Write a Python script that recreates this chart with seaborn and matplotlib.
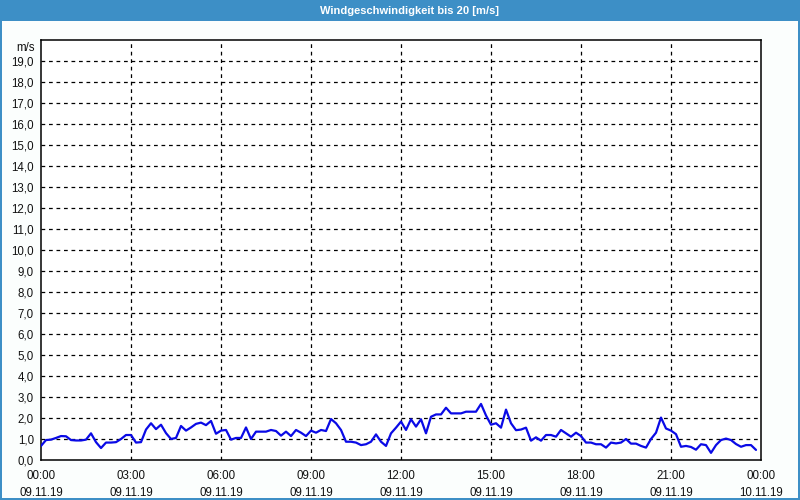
import numpy as np
import pandas as pd
import matplotlib
matplotlib.use("Agg")
import matplotlib.pyplot as plt
from matplotlib.patches import Rectangle
from matplotlib.transforms import ScaledTranslation
import seaborn as sns

# ---- data (10-minute samples, 09.11.19 00:00 .. 23:50) ----
wind_speed = [
    0.67, 0.95, 0.97, 1.05, 1.14, 1.13, 0.95, 0.93, 0.93, 0.97, 1.27, 0.85,
    0.57, 0.83, 0.83, 0.85, 1.00, 1.19, 1.19, 0.83, 0.85, 1.45, 1.75, 1.47,
    1.68, 1.28, 1.00, 1.05, 1.62, 1.40, 1.55, 1.72, 1.78, 1.66, 1.86, 1.25,
    1.40, 1.43, 0.97, 1.05, 1.05, 1.55, 1.00, 1.35, 1.35, 1.35, 1.43, 1.38,
    1.16, 1.35, 1.14, 1.43, 1.30, 1.14, 1.40, 1.30, 1.43, 1.38, 1.95, 1.75,
    1.43, 0.87, 0.87, 0.83, 0.71, 0.75, 0.87, 1.22, 0.87, 0.67, 1.27, 1.54,
    1.83, 1.43, 1.94, 1.59, 1.94, 1.27, 2.06, 2.17, 2.17, 2.49, 2.22, 2.22,
    2.22, 2.30, 2.30, 2.30, 2.67, 2.12, 1.68, 1.75, 1.54, 2.40, 1.75, 1.42,
    1.45, 1.54, 0.92, 1.08, 0.92, 1.19, 1.19, 1.11, 1.43, 1.27, 1.11, 1.30,
    1.14, 0.83, 0.83, 0.75, 0.75, 0.59, 0.83, 0.79, 0.83, 1.00, 0.78, 0.78,
    0.67, 0.59, 1.00, 1.30, 2.02, 1.50, 1.40, 1.23, 0.63, 0.67, 0.62, 0.49,
    0.75, 0.71, 0.34, 0.71, 0.95, 1.02, 0.95, 0.76, 0.63, 0.71, 0.71, 0.48,
]
sample_minutes = 10
x_tick_hours = [0, 3, 6, 9, 12, 15, 18, 21, 24]
x_tick_labels = ["00:00\n09.11.19", "03:00\n09.11.19", "06:00\n09.11.19",
                 "09:00\n09.11.19", "12:00\n09.11.19", "15:00\n09.11.19",
                 "18:00\n09.11.19", "21:00\n09.11.19", "00:00\n10.11.19"]
y_tick_values = list(range(0, 20))
y_tick_labels = [f"{v},0" for v in range(0, 20)]
unit_label = "m/s"
title = "Windgeschwindigkeit bis 20 [m/s]"

df = pd.DataFrame({
    "hour": np.arange(len(wind_speed)) * sample_minutes / 60.0,
    "speed": wind_speed,
})

sns.set_style("white")
plt.rcParams["font.family"] = ["Liberation Sans", "DejaVu Sans"]

bg = "#fbfefd"
blue_frame = "#3d8fc6"
fig = plt.figure(figsize=(8, 5), dpi=100, facecolor=bg)

# window title bar and border
fig.patches.append(Rectangle((0, 1 - 21 / 500), 1, 21 / 500, transform=fig.transFigure,
                             facecolor=blue_frame, edgecolor="none", zorder=0))
fig.patches.append(Rectangle((0, 0), 2 / 800, 1, transform=fig.transFigure,
                             facecolor=blue_frame, edgecolor="none", zorder=0))
fig.patches.append(Rectangle((1 - 2 / 800, 0), 2 / 800, 1, transform=fig.transFigure,
                             facecolor=blue_frame, edgecolor="none", zorder=0))
fig.patches.append(Rectangle((0, 0), 1, 2 / 500, transform=fig.transFigure,
                             facecolor=blue_frame, edgecolor="none", zorder=0))
fig.text(0.512, 1 - 10.5 / 500, title, color="white", fontsize=8, fontweight="bold",
         ha="center", va="center")

ax = fig.add_axes([41 / 800, 40 / 500, 720 / 800, 420 / 500])
ax.set_facecolor("white")

sns.lineplot(data=df, x="hour", y="speed", ax=ax, color="#0a0ae6", linewidth=1.6,
             zorder=3)

ax.set_xlim(0, 24)
ax.set_ylim(0, 20)
ax.set_xticks(x_tick_hours)
ax.set_xticklabels(x_tick_labels, fontsize=8.3, linespacing=1.6)
ax.set_xticks(np.arange(0, 25, 1), minor=True)
ax.set_yticks(y_tick_values)
ax.set_yticklabels(y_tick_labels, fontsize=8.3)
ax.set_xlabel("")
ax.set_ylabel("")

ax.tick_params(axis="x", which="major", direction="out", length=4, width=1,
               color="black", pad=3, labelcolor="#111111")
ax.tick_params(axis="x", which="minor", direction="out", length=4, width=1, color="black")
ax.tick_params(axis="y", which="major", direction="out", length=3, width=1,
               color="black", pad=2, labelcolor="#111111")

# unit label at the top of the y axis, slightly below the frame
ax.text(-6 / 720, 20, unit_label, fontsize=8.3, color="#111111", ha="right", va="top",
        transform=ax.get_yaxis_transform() + ScaledTranslation(0, -2 / 100, fig.dpi_scale_trans))

for v in y_tick_values[1:]:
    ax.axhline(v, color="black", linewidth=0.9, linestyle=(0, (3, 3)), zorder=1)
for h in x_tick_hours[1:-1]:
    ax.axvline(h, color="black", linewidth=0.9, linestyle=(0, (3, 3)), zorder=1)

for s in ax.spines.values():
    s.set_visible(True)
    s.set_color("black")
    s.set_linewidth(1.1)

fig.savefig("out.png", dpi=100, facecolor=bg)
